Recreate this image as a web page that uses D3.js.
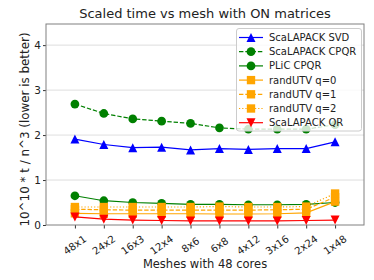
<!DOCTYPE html>
<html>
<head>
<meta charset="utf-8">
<script src="https://cdn.jsdelivr.net/npm/d3@7"></script>
<style>
  html, body { margin: 0; padding: 0; background: #fff; }
  svg { display: block; font-family: "DejaVu Sans", sans-serif; }
</style>
</head>
<body>
<svg id="chart" width="374" height="280"></svg>
<script>
// ---- data ----
const categories = ["48x1","24x2","16x3","12x4","8x6","6x8","4x12","3x16","2x24","1x48"];
const scalapackSVD  = [1.91, 1.79, 1.72, 1.73, 1.67, 1.70, 1.68, 1.70, 1.70, 1.85];
const scalapackCPQR = [2.69, 2.48, 2.36, 2.31, 2.26, 2.16, 2.13, 2.13, 2.13, 2.23];
const plicCPQR      = [0.65, 0.54, 0.50, 0.48, 0.46, 0.46, 0.45, 0.45, 0.46, 0.50];
const randUTVq0     = [0.26, 0.25, 0.25, 0.25, 0.25, 0.245, 0.245, 0.25, 0.27, 0.52];
const randUTVq1     = [0.35, 0.34, 0.33, 0.33, 0.33, 0.33, 0.33, 0.34, 0.35, 0.62];
const randUTVq2     = [0.40, 0.40, 0.40, 0.40, 0.40, 0.41, 0.40, 0.40, 0.41, 0.70];
const scalapackQR   = [0.18, 0.13, 0.11, 0.10, 0.09, 0.09, 0.09, 0.09, 0.10, 0.11];
const yTicks = [0, 1, 2, 3, 4];
const yMax = 4.47;
const xDomain = [-1, 10];

const series = [
  {name: "ScaLAPACK SVD",  values: scalapackSVD,  color: "#0000ff", dash: null,     marker: "tri-up"},
  {name: "ScaLAPACK CPQR", values: scalapackCPQR, color: "#008000", dash: "4.4,1.9", marker: "circle"},
  {name: "PLiC CPQR",      values: plicCPQR,      color: "#008000", dash: null,     marker: "circle"},
  {name: "randUTV q=0",    values: randUTVq0,     color: "#ffa500", dash: null,     marker: "square"},
  {name: "randUTV q=1",    values: randUTVq1,     color: "#ffa500", dash: "4.4,1.9", marker: "square"},
  {name: "randUTV q=2",    values: randUTVq2,     color: "#ffa500", dash: "1.2,2",   marker: "square"},
  {name: "ScaLAPACK QR",   values: scalapackQR,   color: "#ff0000", dash: null,     marker: "tri-down"}
];

// ---- layout ----
const L = 46, R = 364, T = 24, B = 225;
const svg = d3.select("#chart");
const x = d3.scaleLinear().domain(xDomain).range([L, R]);
const y = d3.scaleLinear().domain([0, yMax]).range([B, T]);

// grid
svg.append("g").selectAll("line").data(yTicks.filter(d => d > 0)).join("line")
  .attr("x1", L).attr("x2", R)
  .attr("y1", d => y(d)).attr("y2", d => y(d))
  .attr("stroke", "#d6d6d6").attr("stroke-width", 0.8);

// axes
const yAxis = d3.axisLeft(y).tickValues(yTicks).tickSize(3).tickPadding(2).tickFormat(d3.format("d"));
const gy = svg.append("g").attr("transform", `translate(${L},0)`).call(yAxis);
gy.select(".domain").remove();
gy.selectAll("line").attr("stroke", "#333");
gy.selectAll("text").attr("font-size", 10.5).attr("fill", "#222").attr("font-family", "DejaVu Sans");

const xAxis = d3.axisBottom(x).tickValues(d3.range(categories.length)).tickSize(3.5).tickFormat(() => "");
const gx = svg.append("g").attr("transform", `translate(0,${B})`).call(xAxis);
gx.select(".domain").remove();
gx.selectAll("line").attr("stroke", "#333");

// rotated x tick labels
svg.append("g").selectAll("text").data(categories).join("text")
  .attr("transform", (d, i) => `translate(${x(i)},${B + 20}) rotate(-35)`)
  .attr("text-anchor", "middle").attr("dominant-baseline", "central")
  .attr("font-size", 10.2).attr("fill", "#222")
  .text(d => d);

// frame
svg.append("rect").attr("x", L).attr("y", T).attr("width", R - L).attr("height", B - T)
  .attr("fill", "none").attr("stroke", "#808080").attr("stroke-width", 1);

// marker symbols
const symbolFor = m => {
  if (m === "circle") return d3.symbol().type(d3.symbolCircle).size(60)();
  if (m === "square") return d3.symbol().type(d3.symbolSquare).size(70)();
  return null;
};
function drawMarker(g, m, cx, cy, color, r) {
  r = r || 4.5;
  if (m === "tri-up") {
    g.append("path").attr("d", `M${cx},${cy - r}L${cx - r},${cy + r}L${cx + r},${cy + r}Z`).attr("fill", color);
  } else if (m === "tri-down") {
    g.append("path").attr("d", `M${cx},${cy + r}L${cx - r},${cy - r}L${cx + r},${cy - r}Z`).attr("fill", color);
  } else {
    g.append("path").attr("d", symbolFor(m)).attr("transform", `translate(${cx},${cy})`).attr("fill", color);
  }
}

const line = d3.line().x((d, i) => x(i)).y(d => y(d));
const plot = svg.append("g");
series.forEach(s => {
  const g = plot.append("g");
  g.append("path").datum(s.values).attr("d", line)
    .attr("fill", "none").attr("stroke", s.color).attr("stroke-width", 1.2)
    .attr("stroke-dasharray", s.dash);
  s.values.forEach((v, i) => drawMarker(g, s.marker, x(i), y(v), s.color));
});

// legend
const lg = svg.append("g");
lg.append("rect").attr("x", 236.5).attr("y", 28.5).attr("width", 125).attr("height", 102.5)
  .attr("rx", 2.5).attr("fill", "white").attr("fill-opacity", 0.8)
  .attr("stroke", "#cccccc").attr("stroke-width", 1);
series.forEach((s, i) => {
  const ly = 37.5 + i * 14.2;
  const g = lg.append("g");
  g.append("line").attr("x1", 239).attr("x2", 263).attr("y1", ly).attr("y2", ly)
    .attr("stroke", s.color).attr("stroke-width", 1.2).attr("stroke-dasharray", s.dash);
  drawMarker(g, s.marker, 251, ly, s.color);
  g.append("text").attr("x", 269).attr("y", ly).attr("dominant-baseline", "central")
    .attr("font-size", 10).attr("fill", "#222").text(s.name);
});

// title & labels
svg.append("text").attr("x", (L + R) / 2).attr("y", 18).attr("text-anchor", "middle")
  .attr("font-size", 13).attr("fill", "#222").text("Scaled time vs mesh with ON matrices");
svg.append("text").attr("x", (L + R) / 2).attr("y", 268).attr("text-anchor", "middle")
  .attr("font-size", 11.5).attr("fill", "#222").text("Meshes with 48 cores");
svg.append("text").attr("transform", `translate(29,129.5) rotate(-90)`)
  .attr("text-anchor", "middle").attr("font-size", 11.9).attr("fill", "#222")
  .text("10^10 * t / n^3 (lower is better)");
</script>
</body>
</html>
